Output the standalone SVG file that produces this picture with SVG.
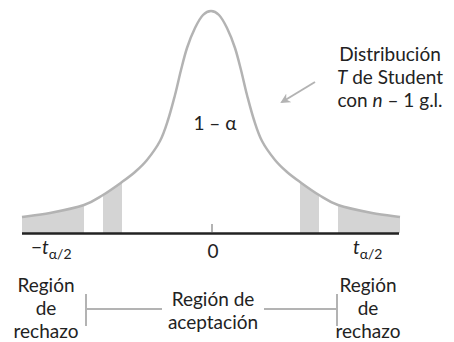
<svg xmlns="http://www.w3.org/2000/svg" width="454" height="342" viewBox="0 0 454 342">
<defs>
<style>
.t{font-family:Lato,"Open Sans","DejaVu Sans",sans-serif;font-size:19px;fill:#222}
.c{text-anchor:middle}
.sh{fill:#d4d4d4;stroke:none}
.g{stroke:#b3b3b3;stroke-width:2.5;fill:none}
.br{stroke:#b3b3b3;stroke-width:2;fill:none}
</style>
<marker id="ah" viewBox="0 0 10 10" refX="8" refY="5" markerWidth="5" markerHeight="5" orient="auto" markerUnits="strokeWidth">
<path d="M0,0 L10,5 L0,10 L3,5 Z" fill="#b3b3b3"/>
</marker>
</defs>
<rect width="454" height="342" fill="#fff"/>
<g id="regions">
<path class="sh" d="M22,233 L22,217 C26.7,216.3 39.7,215 50,213 C60.3,211 75.2,208 84,205 L84,233 Z"/>
<path class="sh" d="M103,233 L103,195 C109.3,191.2 116.7,185.8 122,182 L122,233 Z"/>
<path class="sh" d="M300,233 L300,182 C305.3,185.8 312.7,191.2 319,195 L319,233 Z"/>
<path class="sh" d="M338,233 L338,205 C346.8,208 361.7,211 372,213 C382.3,215 395.3,216.3 400,217 L400,233 Z"/>
</g>
<g id="curve">
<path class="g" d="M22,217 C26.7,216.3 39.7,215 50,213 C60.3,211 75.2,208 84,205 C92.8,202 96.7,198.8 103,195 C109.3,191.2 116.7,185.8 122,182 C127.3,178.2 130.8,175.7 135,172 C139.2,168.3 142.8,165.2 147,160 C151.2,154.8 156.5,147.7 160,141 C163.5,134.3 165.5,127.7 168,120 C170.5,112.3 172.8,103.3 175,95 C177.2,86.7 179,77.8 181,70 C183,62.2 184.7,55 187,48 C189.3,41 192.3,33.5 195,28 C197.7,22.5 200.3,17.8 203,15 C205.7,12.2 208.3,11 211,11 C213.7,11 216.3,12.2 219,15 C221.7,17.8 224.3,22.5 227,28 C229.7,33.5 232.7,41 235,48 C237.3,55 239,62.2 241,70 C243,77.8 244.8,86.7 247,95 C249.2,103.3 251.5,112.3 254,120 C256.5,127.7 258.5,134.3 262,141 C265.5,147.7 270.8,154.8 275,160 C279.2,165.2 282.8,168.3 287,172 C291.2,175.7 294.7,178.2 300,182 C305.3,185.8 312.7,191.2 319,195 C325.3,198.8 329.2,202 338,205 C346.8,208 361.7,211 372,213 C382.3,215 395.3,216.3 400,217"/>
</g>
<g id="axis">
<line x1="22" y1="233.5" x2="399" y2="233.5" stroke="#222" stroke-width="2.5"/>
<line x1="212" y1="224" x2="212" y2="232" stroke="#b3b3b3" stroke-width="2"/>
</g>
<g id="connectors">
<line class="br" x1="315" y1="82" x2="282" y2="102" marker-end="url(#ah)"/>
<path class="br" d="M86,294 V326 M86,309 H162"/>
<path class="br" d="M337,294 V326 M337,309 H264"/>
</g>
<g id="labels">
<text class="t c" x="215" y="130">1 – α</text>
<text class="t c" x="390" y="61">Distribución</text>
<text class="t c" x="390" y="84"><tspan font-style="italic">T</tspan> de Student</text>
<text class="t c" x="390" y="107">con <tspan font-style="italic">n</tspan> – 1 g.l.</text>
<text class="t" x="31" y="254">−<tspan font-style="italic">t</tspan><tspan font-size="14" dy="5">α/2</tspan></text>
<text class="t c" x="213" y="258">0</text>
<text class="t" x="353" y="254"><tspan font-style="italic">t</tspan><tspan font-size="14" dy="5">α/2</tspan></text>
</g>
<g id="left-reject">
<text class="t c" x="46" y="292">Región</text>
<text class="t c" x="46" y="315">de</text>
<text class="t c" x="46" y="338">rechazo</text>
</g>
<g id="accept">
<text class="t c" x="213" y="306">Región de</text>
<text class="t c" x="213" y="329">aceptación</text>
</g>
<g id="right-reject">
<text class="t c" x="368" y="292">Región</text>
<text class="t c" x="368" y="315">de</text>
<text class="t c" x="368" y="338">rechazo</text>
</g>
</svg>
